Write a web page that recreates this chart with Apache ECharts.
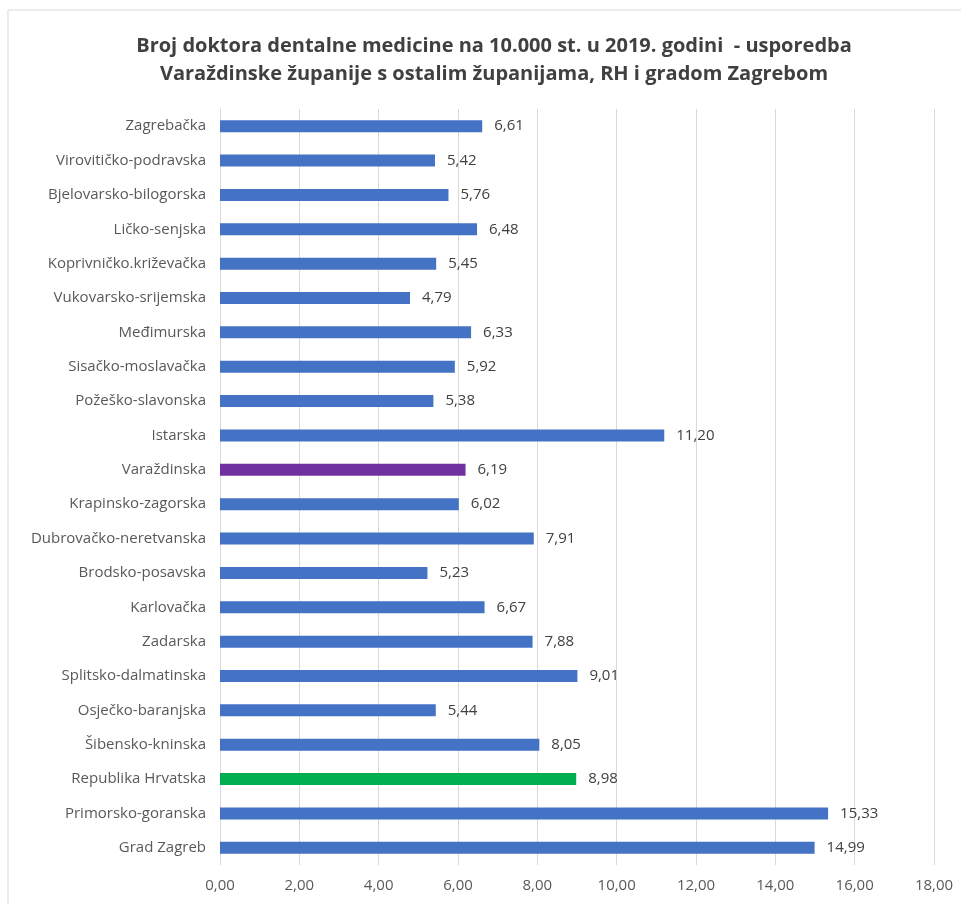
<!DOCTYPE html>
<html><head><meta charset="utf-8">
<script src="https://cdn.jsdelivr.net/npm/echarts@6/dist/echarts.min.js"></script>
<style>html,body{margin:0;padding:0;background:#fff}#c{width:961px;height:904px}</style>
</head><body><div id="c"></div>
<script>
const categories = ["Zagrebačka","Virovitičko-podravska","Bjelovarsko-bilogorska","Ličko-senjska","Koprivničko.križevačka","Vukovarsko-srijemska","Međimurska","Sisačko-moslavačka","Požeško-slavonska","Istarska","Varaždinska","Krapinsko-zagorska","Dubrovačko-neretvanska","Brodsko-posavska","Karlovačka","Zadarska","Splitsko-dalmatinska","Osječko-baranjska","Šibensko-kninska","Republika Hrvatska","Primorsko-goranska","Grad Zagreb"];
const values = [6.61,5.42,5.76,6.48,5.45,4.79,6.33,5.92,5.38,11.20,6.19,6.02,7.91,5.23,6.67,7.88,9.01,5.44,8.05,8.98,15.33,14.99];
const highlight = {"Varaždinska":"#7030A0","Republika Hrvatska":"#00B050"};
const baseColor = "#4472C4";
const titleLines = ["Broj doktora dentalne medicine na 10.000 st. u 2019. godini  - usporedba","Varaždinske županije s ostalim županijama, RH i gradom Zagrebom"];
const fmt = v => v.toFixed(2).replace('.', ',');
const font = "'Open Sans',sans-serif";
const chart = echarts.init(document.getElementById('c'));
chart.setOption({
  animation:false,
  backgroundColor:'#fff',
  graphic:[
    {type:'rect',shape:{x:8,y:10,width:960,height:900},style:{fill:'none',stroke:'#d9d9d9',lineWidth:1},silent:true},
    {type:'text',x:494,y:46,style:{text:titleLines[0],textAlign:'center',textVerticalAlign:'middle',font:"bold 20px 'Open Sans',sans-serif",fill:'#404040'}},
    {type:'text',x:494,y:74,style:{text:titleLines[1],textAlign:'center',textVerticalAlign:'middle',font:"bold 20px 'Open Sans',sans-serif",fill:'#404040'}}
  ],
  grid:{left:220,right:27,top:109,bottom:39,containLabel:false},
  xAxis:{type:'value',min:0,max:18,interval:2,
    axisLabel:{formatter:fmt,color:'#595959',fontFamily:font,fontSize:15,margin:13},
    axisLine:{show:false},axisTick:{show:false},
    splitLine:{lineStyle:{color:'#d9d9d9'}}},
  yAxis:{type:'category',data:categories,inverse:true,
    axisLabel:{color:'#595959',fontFamily:font,fontSize:15,margin:14},
    axisLine:{show:true,lineStyle:{color:'#d9d9d9'}},axisTick:{show:false}},
  series:[{type:'bar',barWidth:12,
    data:categories.map((c,i)=>({value:values[i],itemStyle:{color:highlight[c]||baseColor}})),
    label:{show:true,position:'right',distance:12,formatter:p=>fmt(p.value),color:'#404040',fontFamily:font,fontSize:15}}]
});
</script></body></html>
